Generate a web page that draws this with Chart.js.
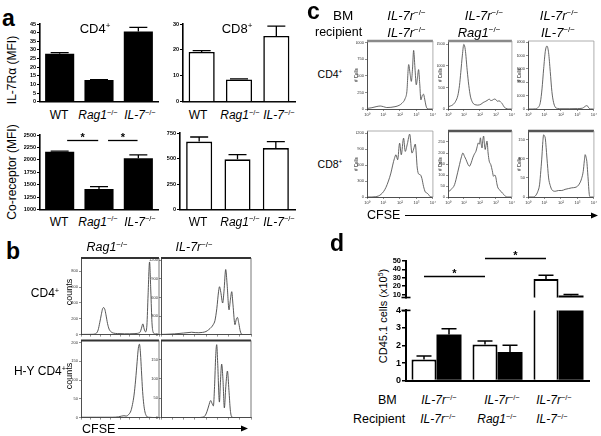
<!DOCTYPE html>
<html><head><meta charset="utf-8">
<script src="https://cdn.jsdelivr.net/npm/chart.js@4.4.1/dist/chart.umd.min.js"></script>
<style>
html,body{margin:0;padding:0;background:#fff}
#stage{position:relative;width:601px;height:436px;overflow:hidden;background:#fff;font-family:'Liberation Sans',Arial,sans-serif}
#stage canvas{position:absolute}
.t{position:absolute;white-space:nowrap;line-height:1;color:#000}
.t sup{font-size:0.62em;position:relative;top:-0.6em;vertical-align:baseline;line-height:0}
#stage svg{position:absolute;left:0;top:0}
</style></head><body><div id="stage"></div>
<script>
const FF = "'Liberation Sans', Arial, sans-serif";
Chart.defaults.font.family = FF;

// ---------------- DATA ----------------
// panel a
const aCategories = ['WT', 'Rag1-/-', 'IL-7-/-'];
const il7raCD4 = [27.7, 12.6, 40.6];
const il7raCD4Err = [0.7, 0.2, 2.4];
const il7raCD8 = [19.2, 8.6, 25.4];
const il7raCD8Err = [0.5, 0.2, 3.8];
const coRecCD4 = [2165, 1417, 2034];
const coRecCD4Err = [12, 45, 66];
const coRecCD8 = [666, 493, 603];
const coRecCD8Err = [45, 45, 63];
const ticksIl7raCD4 = [0, 5, 10, 15, 20, 25, 30, 35, 40, 45];
const ticksIl7raCD8 = [0, 10, 20, 30];
const ticksCoRecCD4 = [1000, 1250, 1500, 1750, 2000, 2250, 2500];
const ticksCoRecCD8 = [0, 250, 500, 750];
const sigCoRecCD4 = [[0.19, 0.98, 2400], [1.23, 1.98, 2400]];

// panel b (CFSE histograms, x in relative channel units 0-100)
const bXTicks = [0, 12.5, 25, 37.5, 50, 62.5, 75, 87.5, 100];
const bRagCD4 = [[0,2],[5,3],[10,3],[15,4],[18,8],[20,20],[22,60],[24,150],[26,250],[27.5,320],[29,341],[30.5,320],[32,250],[34,140],[36,70],[38,40],[40,25],[44,15],[50,12],[56,10],[62,10],[68,12],[72,15],[74,20],[76,35],[77.5,80],[79.3,135],[81,70],[82.7,35],[84.5,120],[86,500],[87.9,916],[89.5,550],[91,150],[92.5,30],[95,8],[100,3]];
const bIl7rCD4 = [[0,3],[5,5],[10,8],[15,12],[20,18],[25,25],[30,32],[34,38],[38,32],[42,30],[46,35],[50,50],[53,80],[56,120],[58,160],[60,230],[62,420],[64,700],[65,773],[66.5,680],[68.5,510],[70,700],[71.9,1051],[73.5,800],[75.6,400],[77,550],[78.6,693],[80,480],[82.2,160],[83.5,240],[84.9,277],[86.5,180],[88,60],[89.7,5],[92,0],[100,0]];
const bRagHY = [[0,1],[10,1],[20,1],[30,1],[40,1],[48,2],[52,4],[55,5],[58,4],[61,8],[64,18],[66,35],[68,60],[70,100],[72,150],[73.5,185],[74.9,196],[76.3,170],[77.5,125],[79,70],[80.5,35],[82,15],[84,4],[86,1],[100,0]];
const bIl7rHY = [[0,0],[20,0],[40,0],[46,1],[49,5],[51,15],[53,30],[55.2,44],[56.8,36],[58.2,30],[59.5,80],[60.8,160],[61.9,188],[63,140],[64.9,40],[66,90],[67.4,138],[68.8,100],[70.4,25],[72,80],[73.8,120],[75.5,70],[77,20],[78.6,2],[82,0],[100,0]];
const bTicksRagCD4 = [0, 200, 400, 600, 800];
const bTicksIl7rCD4 = [0, 300, 600, 900, 1200];
const bTicksRagHY = [0, 50, 100, 150, 200];
const bTicksIl7rHY = [0, 50, 100, 150];

// panel c (x = log10 CFSE)
const cDecades = [0, 1, 2, 3, 4];
const cDecadeLabels = ['10\u2070', '10\u00B9', '10\u00B2', '10\u00B3', '10\u2074'];
const cCD4_Il7r = [[0,8],[0.3,20],[0.55,35],[0.8,45],[1.0,35],[1.2,22],[1.45,25],[1.7,35],[1.95,55],[2.12,86],[2.32,160],[2.42,265],[2.53,670],[2.62,520],[2.69,416],[2.76,600],[2.83,883],[2.91,620],[2.99,365],[3.06,470],[3.13,594],[3.2,380],[3.27,137],[3.35,200],[3.43,223],[3.5,150],[3.57,60],[3.64,10],[3.75,0],[4,0]];
const cCD4_Rag = [[0,50],[0.15,70],[0.31,100],[0.48,180],[0.62,320],[0.72,550],[0.8,850],[0.9,1250],[0.99,1500],[1.08,1380],[1.2,900],[1.3,550],[1.4,300],[1.5,180],[1.6,120],[1.75,95],[1.86,90],[2.06,110],[2.2,150],[2.37,180],[2.5,210],[2.58,230],[2.68,195],[2.78,205],[2.9,230],[2.99,220],[3.09,180],[3.2,190],[3.3,160],[3.38,130],[3.46,80],[3.53,40],[3.6,20],[3.7,3],[3.8,0],[4,0]];
const cCD4_Il7 = [[0,0],[0.3,0],[0.45,10],[0.6,100],[0.75,500],[0.85,1500],[0.95,3000],[1.05,4300],[1.15,4700],[1.25,4200],[1.35,2800],[1.45,1300],[1.55,500],[1.65,150],[1.8,40],[2.0,20],[2.5,20],[3.0,30],[3.3,60],[3.45,180],[3.55,250],[3.63,200],[3.7,60],[3.78,5],[3.9,0],[4,0]];
const cCD8_Il7r = [[0,0],[0.3,0],[0.5,5],[0.7,20],[0.85,50],[1.0,100],[1.15,180],[1.3,300],[1.45,450],[1.56,600],[1.66,720],[1.76,794],[1.86,700],[1.98,1012],[2.08,794],[2.22,1106],[2.32,856],[2.45,1000],[2.59,1181],[2.73,825],[2.83,900],[2.93,994],[3.05,544],[3.14,430],[3.23,420],[3.33,350],[3.43,200],[3.54,94],[3.64,75],[3.74,44],[3.84,5],[4,0]];
const cCD8_Rag = [[0,20],[0.2,35],[0.41,56],[0.6,110],[0.72,147],[0.85,185],[0.93,200],[1.03,185],[1.13,170],[1.24,150],[1.34,140],[1.45,155],[1.55,178],[1.65,195],[1.75,208],[1.83,230],[1.9,246],[1.97,240],[2.03,269],[2.08,240],[2.13,223],[2.18,260],[2.23,277],[2.28,240],[2.33,216],[2.38,235],[2.44,254],[2.51,200],[2.58,163],[2.68,147],[2.77,120],[2.85,94],[2.93,100],[3.0,87],[3.06,60],[3.13,41],[3.2,35],[3.3,26],[3.4,18],[3.5,11],[3.6,3],[3.7,0],[4,0]];
const cCD8_Il7 = [[0,0],[0.3,0],[0.45,3],[0.6,15],[0.7,32],[0.78,70],[0.85,110],[0.9,145],[0.95,163],[1.0,160],[1.05,154],[1.1,130],[1.15,102],[1.2,75],[1.25,50],[1.35,30],[1.45,19],[1.65,15],[1.85,17],[2.05,17],[2.25,20],[2.45,22],[2.65,24],[2.85,25],[3.0,28],[3.15,37],[3.25,48],[3.35,67],[3.42,95],[3.47,111],[3.52,105],[3.57,93],[3.62,65],[3.66,41],[3.7,15],[3.74,2],[3.8,0],[4,0]];
const cTicksR1C1 = [0, 250, 500, 750, 1000];
const cTicksR1C2 = [0, 500, 1000, 1500];
const cTicksR1C3 = [0, 1000, 2000, 3000, 4000, 5000];
const cTicksR2C1 = [0, 300, 600, 900, 1200];
const cTicksR2C2 = [0, 50, 100, 150, 200, 250];
const cTicksR2C3 = [0, 50, 100, 150];

// panel d
const dGroups = ['IL-7r/IL-7r', 'IL-7r/Rag1', 'IL-7r/IL-7'];
const dOpen = [1.2, 2.05, 28.4];
const dOpenErr = [0.2, 0.2, 4.6];
const dFilled = [2.62, 1.63, 8.9];
const dFilledErr = [0.34, 0.38, 1.1];
const dTicksLow = [0, 1, 2, 3, 4];
const dTicksHigh = [10, 20, 30, 40, 50];
const dSig = [[0, 1, 31.9], [1, 2, 53.2]];

// ---------------- HELPERS ----------------
const stage = document.getElementById('stage');
function mk(L, T, W, H, pad, cfg) {
  const cv = document.createElement('canvas');
  const cw = W + pad.l + pad.r, ch = H + pad.t + pad.b;
  cv.width = cw; cv.height = ch;
  cv.style.left = (L - pad.l) + 'px'; cv.style.top = (T - pad.t) + 'px';
  cv.style.width = cw + 'px'; cv.style.height = ch + 'px';
  stage.appendChild(cv);
  cfg.options = Object.assign({responsive:false, maintainAspectRatio:false, animation:false, devicePixelRatio:1, events:[]}, cfg.options);
  cfg.options.layout = {padding:{left:0, top:pad.t, right:pad.r, bottom:0}};
  cfg.options.plugins = {legend:{display:false}, tooltip:{enabled:false}};
  cfg.options.scales.x.afterFit = s => { s.height = pad.b; };
  cfg.options.scales.y.afterFit = s => { s.width = pad.l; };
  return new Chart(cv, cfg);
}
function yAxis(min, max, ticks, o) {
  return {
    type:'linear', min, max,
    afterBuildTicks: s => { s.ticks = ticks.map(v => ({value:v})); },
    border:{display:true, color:o.bc || '#000', width:o.bw},
    grid:{display:true, drawOnChartArea:false, drawTicks:true, tickLength:o.tl, color:o.tc || '#000', lineWidth:o.tw},
    ticks:{autoSkip:false, font:{family:FF, size:o.fs, weight:o.fw || 'normal'}, color:o.lc || '#000', padding:1, callback:v => String(v)}
  };
}
function xCat(bw, show) {
  return {type:'category', offset:true, display:true,
    border:{display:show !== false, color:'#000', width:bw},
    grid:{display:true, drawOnChartArea:false, drawTicks:false},
    ticks:{display:false}};
}
function errPlugin(cap, lw) {
  return {id:'errBars', afterDatasetsDraw(ch) {
    const c = ch.ctx, ys = ch.scales.y, a = ch.chartArea;
    c.save(); c.beginPath(); c.rect(a.left - 30, a.top - 1, a.width + 60, a.height + 1); c.clip();
    c.strokeStyle = '#000'; c.lineWidth = lw;
    ch.data.datasets.forEach((ds, di) => {
      if (!ds.errors) return;
      ch.getDatasetMeta(di).data.forEach((bar, i) => {
        const y0 = ys.getPixelForValue(ds.data[i]), y1 = ys.getPixelForValue(ds.data[i] + ds.errors[i]);
        c.beginPath(); c.moveTo(bar.x, y0); c.lineTo(bar.x, y1);
        c.moveTo(bar.x - cap / 2, y1); c.lineTo(bar.x + cap / 2, y1); c.stroke();
      });
    });
    c.restore();
  }};
}
function sigPlugin(lines, xpos, fs) {
  return {id:'sig', afterDraw(ch) {
    const c = ch.ctx, ys = ch.scales.y;
    c.save(); c.strokeStyle = '#000'; c.lineWidth = 1.3; c.fillStyle = '#000';
    c.font = 'bold ' + fs + 'px ' + FF; c.textAlign = 'center'; c.textBaseline = 'alphabetic';
    lines.forEach(l => {
      const x0 = xpos(ch, l[0]), x1 = xpos(ch, l[1]), y = Math.round(ys.getPixelForValue(l[2])) + 0.5;
      c.beginPath(); c.moveTo(x0, y); c.lineTo(x1, y); c.stroke();
      c.fillText('*', (x0 + x1) / 2, y + 0.5);
    });
    c.restore();
  }};
}
function capPlugin(where) {
  return {id:'axcap', afterDraw(ch) {
    const a = ch.chartArea, c = ch.ctx;
    const y = where === 'top' ? a.top : a.bottom;
    c.save(); c.strokeStyle = '#000'; c.lineWidth = 1.6;
    c.beginPath(); c.moveTo(a.left - 4.5, y); c.lineTo(a.left + 4.5, y); c.stroke(); c.restore();
  }};
}
function framePlugin(top, right) {
  return {id:'frame', afterDraw(ch) {
    const a = ch.chartArea, c = ch.ctx;
    c.save();
    c.strokeStyle = top[1]; c.lineWidth = top[0];
    c.beginPath(); c.moveTo(a.left, a.top); c.lineTo(a.right, a.top); c.stroke();
    c.strokeStyle = right[1]; c.lineWidth = right[0];
    c.beginPath(); c.moveTo(a.right, a.top); c.lineTo(a.right, a.bottom); c.stroke();
    c.restore();
  }};
}
function barChart(L, T, W, H, padL, vals, errs, ticks, min, max, filled, bp, sig) {
  const plugins = [errPlugin(18, 1.3)];
  if (sig) plugins.push(sigPlugin(sig, (ch, f) => ch.scales.x.getPixelForValue(f), 11));
  return mk(L, T, W, H, {l:padL, t:6, r:3, b:3}, {
    type:'bar',
    data:{labels:aCategories, datasets:[{data:vals, errors:errs, backgroundColor:filled ? '#000' : '#fff',
      borderColor:'#000', borderWidth:filled ? 0 : 1.6, barPercentage:bp, categoryPercentage:1, clip:0}]},
    options:{scales:{x:xCat(1.6), y:yAxis(min, max, ticks, {bw:1.6, tl:3, tw:1, fs:5.5, fw:'bold'})}},
    plugins
  });
}
function hist(L, T, W, H, pad, pts, xmax, xticks, xlab, ymax, yticks, frame, color) {
  return mk(L, T, W, H, pad, {
    type:'line',
    data:{datasets:[{data:pts.map(p => ({x:p[0], y:p[1]})), borderColor:color, borderWidth:0.9,
      pointRadius:0, fill:false, cubicInterpolationMode:'monotone', clip:0}]},
    options:{scales:{
      x:{type:'linear', min:0, max:xmax,
        afterBuildTicks: s => { s.ticks = xticks.map(v => ({value:v})); },
        border:{display:true, color:'#222', width:0.8},
        grid:{display:true, drawOnChartArea:false, drawTicks:true, tickLength:2, color:'#444', lineWidth:0.6},
        ticks:{display:!!xlab, autoSkip:false, maxRotation:0, font:{size:4}, color:'#333', padding:1,
          callback:(v, i) => xlab ? xlab[i] : ''}},
      y:yAxis(0, ymax, yticks, {bw:0.8, bc:'#222', tl:2, tw:0.6, tc:'#444', fs:4, lc:'#333'})
    }},
    plugins:[framePlugin(frame[0], frame[1])]
  });
}

// ---------------- PANEL a ----------------
barChart(40, 24, 118, 79, 13, il7raCD4, il7raCD4Err, ticksIl7raCD4, 0, 45, true, 0.74);
barChart(183, 24, 112, 79, 12, il7raCD8, il7raCD8Err, ticksIl7raCD8, 0, 30, false, 0.7);
barChart(40, 135, 118, 76, 17, coRecCD4, coRecCD4Err, ticksCoRecCD4, 1000, 2500, true, 0.74, sigCoRecCD4);
barChart(180, 133, 115, 78, 15, coRecCD8, coRecCD8Err, ticksCoRecCD8, 0, 750, false, 0.68);

// ---------------- PANEL b ----------------
const bFrame = [[2, '#333'], [0.8, '#555']];
hist(81, 258, 78, 77, {l:12, t:4, r:2, b:3}, bRagCD4, 100, bXTicks, null, 966, bTicksRagCD4, bFrame, '#444');
hist(161, 258, 90, 77, {l:12, t:4, r:4, b:3}, bIl7rCD4, 100, bXTicks, null, 1237, bTicksIl7rCD4, bFrame, '#444');
hist(81, 340, 78, 78, {l:12, t:3, r:2, b:3}, bRagHY, 100, bXTicks, null, 206, bTicksRagHY, bFrame, '#444');
hist(161, 340, 90, 78, {l:12, t:3, r:4, b:3}, bIl7rHY, 100, bXTicks, null, 199, bTicksIl7rHY, bFrame, '#444');

// ---------------- PANEL c ----------------
const thinTop = [0.8, '#999'], grayTop = [2.6, '#8a8a8a'], darkTop = [2.6, '#555'], thinR = [0.8, '#999'];
hist(367, 41, 66, 68, {l:11, t:4, r:4, b:7}, cCD4_Il7r, 4, cDecades, cDecadeLabels, 1025, cTicksR1C1, [grayTop, thinR], '#555');
hist(448, 41, 64, 68, {l:11, t:4, r:4, b:7}, cCD4_Rag, 4, cDecades, cDecadeLabels, 1578, cTicksR1C2, [grayTop, thinR], '#555');
hist(528, 41, 66, 68, {l:11, t:4, r:4, b:7}, cCD4_Il7, 4, cDecades, cDecadeLabels, 5075, cTicksR1C3, [thinTop, thinR], '#555');
hist(367, 131, 66, 66, {l:11, t:4, r:4, b:7}, cCD8_Il7r, 4, cDecades, cDecadeLabels, 1240, cTicksR2C1, [thinTop, thinR], '#555');
hist(448, 131, 64, 66, {l:11, t:4, r:4, b:7}, cCD8_Rag, 4, cDecades, cDecadeLabels, 300, cTicksR2C2, [darkTop, thinR], '#555');
hist(528, 131, 66, 66, {l:11, t:4, r:4, b:7}, cCD8_Il7, 4, cDecades, cDecadeLabels, 173, cTicksR2C3, [darkTop, thinR], '#555');

// ---------------- PANEL d ----------------
function dDatasets() {
  return [
    {data:dOpen, errors:dOpenErr, backgroundColor:'#fff', borderColor:'#000', borderWidth:2, barPercentage:1, categoryPercentage:0.82, clip:0},
    {data:dFilled, errors:dFilledErr, backgroundColor:'#000', borderColor:'#000', borderWidth:0, barPercentage:1, categoryPercentage:0.82, clip:0}
  ];
}
mk(406, 310, 183, 74, {l:15, t:6, r:3, b:3}, {
  type:'bar', data:{labels:dGroups, datasets:dDatasets()},
  options:{scales:{x:xCat(2), y:yAxis(0, 4, dTicksLow, {bw:2, tl:4, tw:1.5, fs:9, fw:'bold'})}},
  plugins:[errPlugin(15, 1.5), capPlugin('top')]
});
mk(406, 261, 183, 41, {l:15, t:16, r:3, b:1}, {
  type:'bar', data:{labels:dGroups, datasets:dDatasets()},
  options:{scales:{x:xCat(0, false), y:yAxis(6.4, 50, dTicksHigh, {bw:2, tl:4, tw:1.5, fs:7.5, fw:'bold'})}},
  plugins:[errPlugin(15, 1.5), capPlugin('bottom'), sigPlugin(dSig, (ch, i) => ch.getDatasetMeta(0).data[i].x, 11)]
});

// ---------------- TEXT ----------------
function txt(html, x, base, size, o) {
  o = o || {};
  const d = document.createElement('div'); d.className = 't'; d.innerHTML = html;
  d.style.fontSize = size + 'px';
  if (o.b) d.style.fontWeight = 'bold';
  d.style.left = x + 'px';
  if (o.rot) { d.style.top = base + 'px'; d.style.transform = 'translate(-50%,-50%) rotate(-90deg)'; }
  else {
    d.style.top = (base - 0.85 * size) + 'px';
    if (o.a === 'c') d.style.transform = 'translateX(-50%)';
    if (o.a === 'r') d.style.transform = 'translateX(-100%)';
  }
  stage.appendChild(d);
}
const S = '<sup>\u2212/\u2212</sup>';
const RAG = '<i>Rag1</i>' + S, IL7 = '<i>IL-7</i>' + S, IL7R = '<i>IL-7r</i>' + S;
// a
txt('a', 2, 27, 23, {b:1});
txt('CD4<sup>+</sup>', 95, 33, 13, {a:'c'});
txt('CD8<sup>+</sup>', 237, 33, 13, {a:'c'});
txt('IL-7R\u03B1 (MFI)', 12, 70, 12, {rot:1});
txt('Co-receptor (MFI)', 12, 172, 12, {rot:1});
[[119.5], [226]].forEach(r => {
  txt('WT', 59, r[0], 12, {a:'c'}); txt(RAG, 98, r[0], 12, {a:'c'}); txt(IL7, 140, r[0], 12, {a:'c'});
  txt('WT', 198, r[0], 12, {a:'c'}); txt(RAG, 240, r[0], 12, {a:'c'}); txt(IL7, 279, r[0], 12, {a:'c'});
});
// b
txt('b', 6, 260, 23, {b:1});
txt(RAG, 107, 252, 12.5, {a:'c'});
txt(IL7R, 194, 252, 12.5, {a:'c'});
txt('CD4<sup>+</sup>', 45, 297.5, 12, {a:'c'});
txt('H-Y CD4<sup>+</sup>', 40, 375.5, 12, {a:'c'});
txt('counts', 69, 292, 9, {rot:1});
txt('counts', 69, 376, 9, {rot:1});
txt('CFSE', 82, 433.5, 12.5);
// c
txt('c', 307, 19.5, 23, {b:1});
txt('BM', 333, 20, 13.5);
txt('recipient', 315, 37, 12.5);
txt(IL7R, 406.5, 20, 13, {a:'c'}); txt(IL7R, 484, 20, 13, {a:'c'}); txt(IL7R, 559, 20, 13, {a:'c'});
txt(IL7R, 406.5, 37, 13, {a:'c'}); txt(RAG, 479, 37, 13, {a:'c'}); txt(IL7, 558, 37, 13, {a:'c'});
txt('CD4<sup>+</sup>', 330, 78, 10.5, {a:'c'});
txt('CD8<sup>+</sup>', 330, 168, 10.5, {a:'c'});
[[357, 75], [441, 75], [520, 75], [357, 164], [441, 164], [520, 164]].forEach(p => txt('# Cells', p[0], p[1], 4.5, {rot:1}));
txt('CFSE', 367, 220, 12.5);
// d
txt('d', 330, 252, 23, {b:1});
txt('CD45.1 cells (x10<sup>5</sup>)', 383, 316, 11, {rot:1});
txt('BM', 378, 404.5, 12.5);
txt('Recipient', 353, 423.5, 12.5);
txt(IL7R, 439, 404.5, 12, {a:'c'}); txt(IL7R, 502, 404.5, 12, {a:'c'}); txt(IL7R, 554, 404.5, 12, {a:'c'});
txt(IL7R, 438, 423.5, 12, {a:'c'}); txt(RAG, 497, 423.5, 12, {a:'c'}); txt(IL7, 552, 423.5, 12, {a:'c'});

// arrows
stage.insertAdjacentHTML('beforeend',
  '<svg width="601" height="436"><g stroke="#000" stroke-width="1.1" fill="#000">' +
  '<line x1="118" y1="428.5" x2="243" y2="428.5"/><polygon points="248,428.5 241,425.5 241,431.5" stroke="none"/>' +
  '<line x1="405" y1="215.5" x2="592" y2="215.5"/><polygon points="598,215.5 591,212.5 591,218.5" stroke="none"/>' +
  '</g></svg>');
</script></body></html>
